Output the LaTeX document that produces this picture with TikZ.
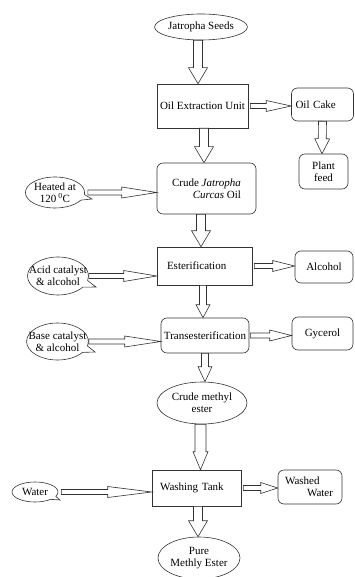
\documentclass[tikz,border=0pt]{standalone}
\usepackage{fontspec}
\setmainfont{Liberation Serif}
\usetikzlibrary{shapes.geometric,shapes.callouts,calc}

\begin{document}
\begin{tikzpicture}[x=1pt,y=-1pt,
  font=\fontsize{11}{12}\selectfont,
  every node/.style={draw=black!80, line width=0.6pt, inner sep=0pt},
  oval/.style={ellipse},
  box/.style={rectangle},
  rbox/.style={rectangle, rounded corners=6pt},
  bubble/.style={ellipse callout, callout pointer arc=22},
  flow/.style n args={3}{draw=black!80, line width=0.6pt, fill=white,
    to path={let \p1=(\tikztostart), \p2=(\tikztotarget),
      \n1={atan2(\y2-\y1,\x2-\x1)} in
      ($(\p1)+(\n1+90:#1)$) -- ($(\p2)+(\n1+180:#3)+(\n1+90:#1)$)
      -- ($(\p2)+(\n1+180:#3)+(\n1+90:#2)$) -- (\p2)
      -- ($(\p2)+(\n1+180:#3)+(\n1-90:#2)$) -- ($(\p2)+(\n1+180:#3)+(\n1-90:#1)$)
      -- ($(\p1)+(\n1-90:#1)$) -- cycle}},
  down/.style={flow={4.5pt}{9.5pt}{16pt}},
  across/.style={flow={2.5pt}{5.5pt}{#1}},
  across/.default=25pt]
\useasboundingbox (0,0) rectangle (354,577);

\node (seeds) at (201,27) [oval, minimum width=92pt, minimum height=26pt] {Jatropha Seeds};
\node (oeu) at (202.5,106) [box, minimum width=91pt, minimum height=44pt] {Oil Extraction Unit};
\node (cake) at (322.5,104.5) [rbox, minimum width=62pt, minimum height=33pt, text width=54pt, align=left] {Oil Cake};
\node (feed) at (323.5,171.5) [rbox, minimum width=49pt, minimum height=35pt, align=center] {Plant\\ feed};

\node (crude) at (206.5,188.5) [rbox, minimum width=99pt, minimum height=51pt, align=right] {Crude \textit{Jatropha}\\ \textit{Curcas} Oil};
	\node (heated) at (55,192.5) [bubble, minimum width=58pt, minimum height=31pt, align=center,
		callout absolute pointer={(92,199)}] {Heated at\\ 120\,\textsuperscript{0}C};

\node (ester) at (204.5,266) [box, minimum width=95pt, minimum height=38pt, text width=75pt, align=left] {Esterification};
	\node (acid) at (58,276) [bubble, minimum width=61pt, minimum height=38pt, inner xsep=-9.5pt, align=center,
		callout absolute pointer={(96,287)}] {Acid catalyst\\ \& alcohol};
	\node (alcohol) at (324,267) [rbox, minimum width=58pt, minimum height=32pt] {Alcohol};

\node (trans) at (205,335.5) [rbox, minimum width=88pt, minimum height=35pt] {Transesterification};
	\node (base) at (57.5,341.5) [bubble, minimum width=61pt, minimum height=37pt, inner xsep=-7pt, align=center,
		callout absolute pointer={(95,352)}] {Base catalyst\\ \& alcohol};
	\node (gly) at (322.5,333.5) [rbox, minimum width=61pt, minimum height=33pt] {Gycerol};

\node (cme) at (202,403) [oval, minimum width=90pt, minimum height=42pt, align=center] {Crude methyl\\ ester};

\node (wash) at (196.5,488) [box, minimum width=89pt, minimum height=36pt, text width=73pt, align=left] {Washing Tank};
	\node (water) at (35,492) [bubble, minimum width=46pt, minimum height=20pt,
		callout absolute pointer={(60,500)}] {Water};
	\node (washed) at (310,487) [rbox, minimum width=64pt, minimum height=34pt, text width=50pt, align=left] {Washed\\ \hspace*{22pt}Water};

\node (pure) at (199,558) [oval, minimum width=82pt, minimum height=42pt, align=center] {Pure\\ Methly Ester};

% block arrows
\draw[down] ([xshift=-3pt]seeds.south) to ([xshift=-4.5pt]oeu.north);
\draw[across] ([xshift=2pt]oeu.east) to (oeu.east -| cake.west);
\draw[flow={4pt}{7.5pt}{15pt}] (cake.south) to ([xshift=-1.5pt]feed.north);
\draw[down] ([xshift=1.5pt]oeu.south) to ([xshift=-2.5pt]crude.north);
\draw[across=35pt] ([xshift=3pt]heated.east) to (heated.east -| crude.west);
\draw[down] ([xshift=-5.5pt]crude.south) to ([xshift=-3.5pt]ester.north);
\draw[across=33pt] (acid.east) to (acid.east -| ester.west);
\draw[across=22pt] ([xshift=2pt]ester.east) to (ester.east -| alcohol.west);
\draw[flow={3.5pt}{7pt}{13pt}] ([xshift=-1.5pt]ester.south) to ([xshift=-2pt]trans.north);
\draw[across=36pt] (base.east) to (base.east -| trans.west);
\draw[across=22pt] ([xshift=1pt]trans.east) to (trans.east -| gly.west);
\draw[flow={3.5pt}{7pt}{15pt}] (trans.south) to ([xshift=3pt]cme.north);
\draw[flow={5.5pt}{7.5pt}{18pt}] ([xshift=-1.5pt]cme.south) to ([xshift=4pt]wash.north);
\draw[across=44pt] ([xshift=3pt]water.east) to (water.east -| wash.west);
\draw[across=17pt] ([xshift=2pt]wash.east) to (wash.east -| washed.west);
\draw[down] ([xshift=1.5pt]wash.south) to ([xshift=-1pt]pure.north);

\end{tikzpicture}
\end{document}
